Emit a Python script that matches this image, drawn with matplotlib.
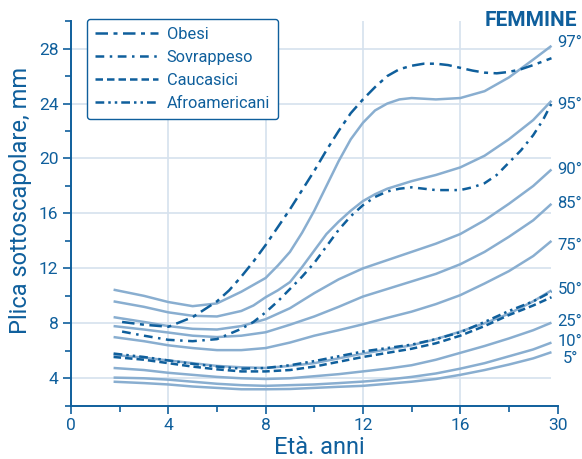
import matplotlib
matplotlib.use("Agg")
import matplotlib.pyplot as plt

plt.rcParams['font.family'] = ['Roboto', 'DejaVu Sans']

# tick positions on the age axis and their printed labels (last one is 30 years)
age_ticks = [0, 4, 8, 12, 16, 20]
age_labels = ['0', '4', '8', '12', '16', '30']

# percentile curves
x_pct = [1.75, 3, 4, 5, 6, 7, 8, 9, 10, 11, 12, 13, 14, 15, 16, 17, 18, 19, 19.75]
p90 = [8.45, 8.1, 7.8, 7.6, 7.55, 7.8, 8.3, 9.1, 10.2, 11.2, 12.0, 12.6, 13.2, 13.8, 14.5, 15.5, 16.7, 18.0, 19.2]
p85 = [7.8, 7.55, 7.33, 7.1, 7.0, 7.1, 7.35, 7.9, 8.5, 9.2, 9.95, 10.5, 11.05, 11.6, 12.3, 13.2, 14.3, 15.5, 16.7]
p75 = [7.0, 6.7, 6.4, 6.2, 6.05, 6.05, 6.2, 6.6, 7.1, 7.5, 7.93, 8.4, 8.85, 9.4, 10.05, 10.9, 11.8, 12.9, 14.0]
p50 = [5.7, 5.5, 5.3, 5.1, 4.9, 4.8, 4.75, 4.9, 5.1, 5.45, 5.8, 6.1, 6.4, 6.85, 7.4, 8.0, 8.7, 9.6, 10.4]
p25 = [4.75, 4.6, 4.4, 4.25, 4.1, 4.0, 3.95, 4.0, 4.15, 4.3, 4.5, 4.7, 4.95, 5.35, 5.85, 6.35, 6.9, 7.5, 8.05]
p10 = [4.05, 4.0, 3.9, 3.75, 3.6, 3.5, 3.45, 3.5, 3.55, 3.65, 3.76, 3.9, 4.1, 4.35, 4.7, 5.1, 5.6, 6.1, 6.6]
p5 = [3.75, 3.65, 3.55, 3.4, 3.3, 3.2, 3.2, 3.22, 3.3, 3.38, 3.45, 3.6, 3.75, 3.95, 4.25, 4.6, 5.0, 5.45, 5.9]

# the two top percentiles bend sharply, so they carry more points
x_p97 = [1.75, 3, 4, 5, 6, 7, 8, 8.5, 9, 9.5, 10, 10.5, 11, 11.5, 12, 12.5, 13, 13.5, 14, 15, 16, 17, 18, 19, 19.75]
p97 = [10.45, 10.0, 9.55, 9.25, 9.45, 10.3, 11.3, 12.2, 13.2, 14.6, 16.2, 18.0, 19.8, 21.4, 22.6, 23.5, 24.0, 24.3, 24.4,
       24.3, 24.4, 24.9, 25.9, 27.2, 28.2]
x_p95 = [1.75, 3, 4, 5, 6, 7, 7.5, 8, 8.5, 9, 9.5, 10, 10.5, 11, 11.5, 12, 12.5, 13, 14, 15, 16, 17, 18, 19, 19.75]
p95 = [9.6, 9.2, 8.8, 8.55, 8.5, 8.9, 9.3, 9.9, 10.4, 11.0, 12.1, 13.3, 14.5, 15.4, 16.2, 16.9, 17.4, 17.8,
       18.35, 18.8, 19.35, 20.2, 21.4, 22.8, 24.2]

percentiles = [(x_p97, p97), (x_p95, p95), (x_pct, p90), (x_pct, p85), (x_pct, p75),
               (x_pct, p50), (x_pct, p25), (x_pct, p10), (x_pct, p5)]
pct_names = ['97°', '95°', '90°', '85°', '75°', '50°', '25°', '10°', '5°']
pct_label_y = [28.45, 23.9, 19.2, 16.7, 13.7, 10.45, 8.1, 6.7, 5.45]
pct_label_x = [20.0, 20.0, 20.0, 20.0, 20.0, 20.0, 20.0, 20.0, 20.2]

# group curves
x_ob = [2.1, 3, 4, 5, 6, 6.5, 7, 7.5, 8, 8.5, 9, 9.5, 10, 10.5, 11, 11.5, 12, 12.5, 13, 13.5, 14, 14.5,
        15, 15.5, 16, 16.5, 17, 17.5, 18, 18.5, 19, 19.75]
obesi = [8.1, 7.9, 7.75, 8.45, 9.6, 10.4, 11.4, 12.5, 13.7, 15.0, 16.3, 17.7, 19.1, 20.6, 22.0, 23.3, 24.3, 25.2,
         26.0, 26.5, 26.75, 26.9, 26.9, 26.8, 26.6, 26.4, 26.25, 26.2, 26.3, 26.5, 26.8, 27.3]
x_sv = [2.1, 3, 4, 5, 6, 7, 7.5, 8, 8.5, 9, 9.5, 10, 10.5, 11, 11.5, 12, 12.5, 13, 13.5, 14, 15, 16, 16.5,
        17, 17.5, 18, 18.5, 19, 19.4, 19.75]
sovrappeso = [7.4, 7.1, 6.8, 6.7, 6.85, 7.6, 8.1, 8.8, 9.6, 10.5, 11.4, 12.4, 13.6, 14.8, 15.8, 16.6, 17.2, 17.6,
              17.8, 17.9, 17.7, 17.7, 17.9, 18.2, 18.8, 19.7, 20.6, 21.7, 22.8, 24.0]
caucasici = [5.55, 5.35, 5.1, 4.85, 4.65, 4.5, 4.5, 4.6, 4.85, 5.2, 5.55, 5.85, 6.15, 6.55, 7.1, 7.8, 8.6, 9.3, 9.9]
afroamericani = [5.8, 5.55, 5.3, 5.05, 4.85, 4.7, 4.75, 4.95, 5.25, 5.6, 5.95, 6.2, 6.45, 6.85, 7.35, 8.1, 8.9, 9.6, 10.3]

dark = '#0f5f9c'
light = '#89aed0'
grid_c = '#d6e2ee'

fig = plt.figure(figsize=(5.82, 4.59), dpi=100)
ax = fig.add_axes([0.122, 0.116, 0.836, 0.838])
ax.set_xlim(0, 20)
ax.set_ylim(2, 30)

# grid
for gy in range(4, 29, 4):
    ax.hlines(gy, 0, 19.75, color=grid_c, lw=1.2, zorder=0)
for gx in [4, 8, 12, 16]:
    ax.vlines(gx, 2, 30, color=grid_c, lw=1.2, zorder=0)

for xs, vals in percentiles:
    ax.plot(xs, vals, color=light, lw=1.8, solid_capstyle='butt', zorder=2)

ax.plot(x_ob, obesi, color=dark, lw=1.8, ls=(0, (5, 2.2, 1.6, 2.2)), label='Obesi', zorder=3)
ax.plot(x_sv, sovrappeso, color=dark, lw=1.8, ls=(0, (3.5, 2.2, 1, 2.2)), label='Sovrappeso', zorder=3)
ax.plot(x_pct, caucasici, color=dark, lw=1.8, ls=(0, (3, 1.6)), label='Caucasici', zorder=3)
ax.plot(x_pct, afroamericani, color=dark, lw=1.8, ls=(0, (3.5, 1.6, 1, 1.6, 1, 1.6)), label='Afroamericani', zorder=3)

for name, lx, ly in zip(pct_names, pct_label_x, pct_label_y):
    ax.text(lx, ly, name, color=dark, fontsize=12, va='center', ha='left', clip_on=False)

fig.text(0.992, 0.955, 'FEMMINE', color=dark, fontsize=15, fontweight='bold', ha='right', va='center')

# axes styling
for side in ['top', 'right']:
    ax.spines[side].set_visible(False)
for side in ['left', 'bottom']:
    ax.spines[side].set_color(dark)
    ax.spines[side].set_linewidth(1.4)

ax.set_xticks(age_ticks)
ax.set_xticklabels(age_labels)
ax.set_xticks(range(2, 20, 4), minor=True)
ax.set_yticks(range(4, 29, 4))
ax.set_yticks(range(2, 31, 4), minor=True)
ax.tick_params(which='major', length=6, width=1.2, color=dark, labelcolor=dark, labelsize=12.5, pad=3)
ax.tick_params(which='minor', length=4, width=1.2, color=dark)

ax.set_xlabel('Età. anni', color=dark, fontsize=17)
ax.xaxis.set_label_coords(0.51, -0.079)
ax.set_ylabel('Plica sottoscapolare, mm', color=dark, fontsize=17)
ax.yaxis.set_label_coords(-0.081, 0.535)

leg = ax.legend(loc='upper left', bbox_to_anchor=(0.033, 1.006), borderaxespad=0,
                fontsize=11.8, handlelength=3.8, labelcolor=dark, frameon=True,
                fancybox=True, edgecolor=dark, framealpha=1, labelspacing=0.48,
                borderpad=0.5, handletextpad=0.55)
leg.get_frame().set_linewidth(1.0)

fig.savefig('out.png', dpi=100)
